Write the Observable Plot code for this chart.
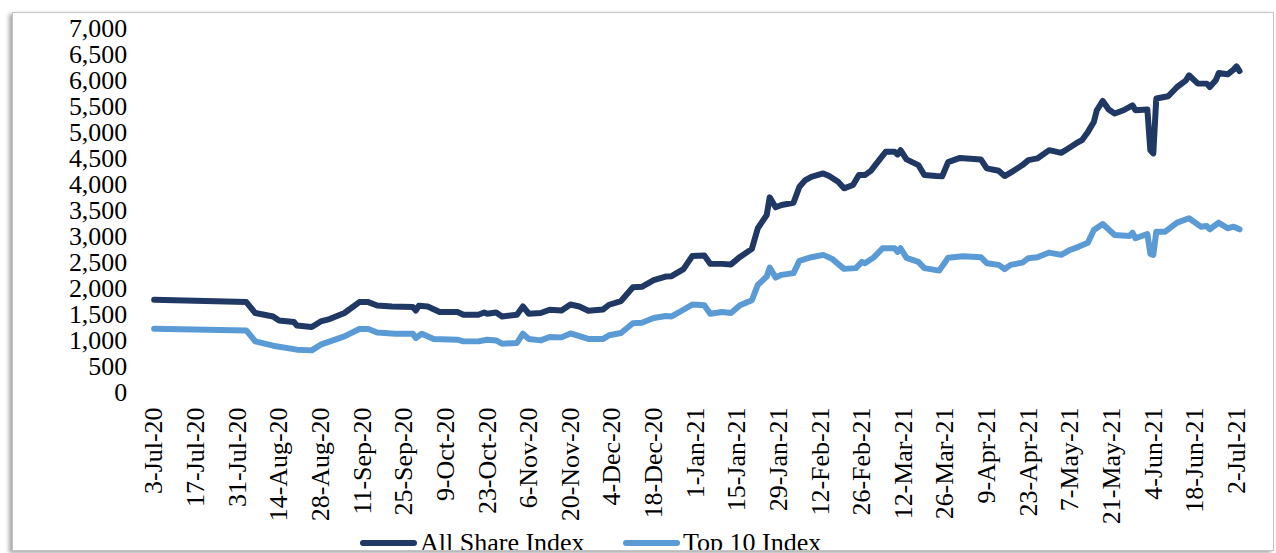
<!DOCTYPE html>
<html>
<head>
<meta charset="utf-8">
<script src="https://cdn.jsdelivr.net/npm/d3@7"></script>
<script src="https://cdn.jsdelivr.net/npm/@observablehq/plot@0.6"></script>
<style>
  html, body { margin: 0; padding: 0; background: #fff; }
  #page { position: relative; width: 1276px; height: 553px; overflow: hidden; background: #fff; }
  #frame { position: absolute; left: 12px; top: 12px; width: 1262px; height: 539px; box-sizing: border-box;
           border: 1px solid #c4c4c4; box-shadow: -3px 2px 4px rgba(0,0,0,0.35); overflow: hidden; background: #fff; }
  #chart { position: absolute; left: -13px; top: -13px; }
  .legend { position: absolute; top: -13px; left: -13px; width: 1276px; height: 553px; pointer-events: none;
            font-family: "Liberation Serif", "Times New Roman", serif; font-size: 26px; color: #000; }
  .item { position: absolute; top: 530px; white-space: nowrap; line-height: 26px; }
  .sw { position: absolute; height: 6px; border-radius: 3px; top: 540px; }
</style>
</head>
<body>
<div id="page">
  <div id="frame">
    <div id="chart"></div>
    <div class="legend" id="legend"></div>
  </div>
</div>
<script>
// ---- Data ----
const seriesNames = ["All Share Index", "Top 10 Index"];
const seriesColors = ["#203864", "#5b9bd5"];

const allShareDates = [
  "2020-07-03","2020-08-03","2020-08-06","2020-08-12","2020-08-14","2020-08-19","2020-08-20","2020-08-25","2020-08-28","2020-08-31",
  "2020-09-05","2020-09-10","2020-09-13","2020-09-16","2020-09-21","2020-09-28","2020-09-29","2020-09-30","2020-10-03","2020-10-07",
  "2020-10-13","2020-10-15","2020-10-20","2020-10-22","2020-10-23","2020-10-26","2020-10-28","2020-11-02","2020-11-04","2020-11-06",
  "2020-11-10","2020-11-13","2020-11-17","2020-11-20","2020-11-23","2020-11-26","2020-12-01","2020-12-03","2020-12-07","2020-12-11",
  "2020-12-14","2020-12-18","2020-12-22","2020-12-24","2020-12-28","2020-12-31","2021-01-04","2021-01-06","2021-01-10","2021-01-13",
  "2021-01-16","2021-01-20","2021-01-22","2021-01-25","2021-01-26","2021-01-28","2021-01-30","2021-02-03","2021-02-05","2021-02-07",
  "2021-02-09","2021-02-13","2021-02-15","2021-02-18","2021-02-20","2021-02-23","2021-02-25","2021-02-27","2021-03-01","2021-03-04",
  "2021-03-06","2021-03-09","2021-03-10","2021-03-11","2021-03-13","2021-03-17","2021-03-19","2021-03-23","2021-03-25","2021-03-27",
  "2021-03-31","2021-04-07","2021-04-09","2021-04-13","2021-04-15","2021-04-18","2021-04-21","2021-04-23","2021-04-26","2021-04-30",
  "2021-05-04","2021-05-06","2021-05-09","2021-05-11","2021-05-13","2021-05-15","2021-05-16","2021-05-18","2021-05-20","2021-05-22",
  "2021-05-25","2021-05-28","2021-05-29","2021-06-02","2021-06-03","2021-06-04","2021-06-05","2021-06-09","2021-06-12","2021-06-15",
  "2021-06-16","2021-06-19","2021-06-22","2021-06-23","2021-06-25","2021-06-26","2021-06-29","2021-07-01","2021-07-02","2021-07-03"
];
const allShareValues = [
  1784,1739,1529,1463,1387,1356,1291,1260,1367,1413,
  1529,1739,1739,1674,1655,1644,1578,1668,1655,1548,
  1548,1496,1496,1540,1515,1540,1463,1496,1655,1515,
  1529,1592,1578,1693,1655,1573,1598,1688,1759,2023,
  2033,2161,2230,2238,2372,2627,2637,2474,2474,2464,
  2608,2762,3159,3414,3753,3561,3605,3650,3956,4085,
  4148,4213,4162,4052,3926,3989,4181,4181,4263,4482,
  4628,4628,4578,4660,4482,4373,4181,4162,4156,4430,
  4511,4482,4309,4263,4162,4263,4373,4468,4501,4660,
  4608,4679,4789,4852,5011,5203,5427,5606,5441,5364,
  5427,5523,5427,5441,4660,4597,5652,5696,5874,6003,
  6099,5939,5939,5874,6003,6143,6118,6208,6271,6181
];

const top10Dates = [
  "2020-07-03","2020-08-03","2020-08-06","2020-08-12","2020-08-20","2020-08-25","2020-08-28","2020-09-05","2020-09-10","2020-09-13",
  "2020-09-16","2020-09-22","2020-09-28","2020-09-29","2020-10-01","2020-10-05","2020-10-13","2020-10-15","2020-10-20","2020-10-23",
  "2020-10-26","2020-10-28","2020-11-02","2020-11-04","2020-11-06","2020-11-10","2020-11-13","2020-11-17","2020-11-20","2020-11-26",
  "2020-12-01","2020-12-03","2020-12-07","2020-12-11","2020-12-14","2020-12-18","2020-12-22","2020-12-24","2020-12-28","2020-12-31",
  "2021-01-04","2021-01-06","2021-01-10","2021-01-13","2021-01-16","2021-01-20","2021-01-22","2021-01-25","2021-01-26","2021-01-28",
  "2021-01-30","2021-02-03","2021-02-05","2021-02-09","2021-02-13","2021-02-16","2021-02-20","2021-02-24","2021-02-26","2021-02-27",
  "2021-03-02","2021-03-05","2021-03-09","2021-03-10","2021-03-11","2021-03-13","2021-03-17","2021-03-19","2021-03-24","2021-03-27",
  "2021-04-01","2021-04-07","2021-04-09","2021-04-13","2021-04-15","2021-04-17","2021-04-21","2021-04-23","2021-04-26","2021-04-30",
  "2021-05-04","2021-05-07","2021-05-10","2021-05-13","2021-05-15","2021-05-18","2021-05-22","2021-05-27","2021-05-28","2021-05-29",
  "2021-06-02","2021-06-03","2021-06-04","2021-06-05","2021-06-08","2021-06-12","2021-06-16","2021-06-20","2021-06-22","2021-06-23",
  "2021-06-26","2021-06-29","2021-07-01","2021-07-03"
];
const top10Values = [
  1227,1195,984,901,825,811,921,1080,1222,1222,
  1156,1132,1132,1049,1132,1030,1016,984,984,1016,
  1003,940,953,1132,1030,1003,1068,1061,1137,1032,
  1032,1103,1145,1333,1342,1433,1471,1463,1592,1693,
  1678,1515,1548,1529,1678,1774,2071,2230,2403,2211,
  2263,2296,2532,2602,2647,2570,2378,2392,2512,2484,
  2599,2775,2775,2704,2775,2589,2512,2392,2345,2593,
  2622,2602,2487,2455,2372,2455,2499,2583,2602,2691,
  2647,2742,2806,2882,3126,3241,3030,3011,3074,2967,
  3049,2666,2647,3093,3093,3266,3350,3189,3203,3139,
  3266,3159,3189,3139
];

const yTicks = [0,500,1000,1500,2000,2500,3000,3500,4000,4500,5000,5500,6000,6500,7000];
const xTickDates = [
  "2020-07-03","2020-07-17","2020-07-31","2020-08-14","2020-08-28","2020-09-11","2020-09-25","2020-10-09","2020-10-23",
  "2020-11-06","2020-11-20","2020-12-04","2020-12-18","2021-01-01","2021-01-15","2021-01-29","2021-02-12","2021-02-26",
  "2021-03-12","2021-03-26","2021-04-09","2021-04-23","2021-05-07","2021-05-21","2021-06-04","2021-06-18","2021-07-02"
];
const xTickLabels = [
  "3-Jul-20","17-Jul-20","31-Jul-20","14-Aug-20","28-Aug-20","11-Sep-20","25-Sep-20","9-Oct-20","23-Oct-20",
  "6-Nov-20","20-Nov-20","4-Dec-20","18-Dec-20","1-Jan-21","15-Jan-21","29-Jan-21","12-Feb-21","26-Feb-21",
  "12-Mar-21","26-Mar-21","9-Apr-21","23-Apr-21","7-May-21","21-May-21","4-Jun-21","18-Jun-21","2-Jul-21"
];

// ---- Build ----
const parse = d3.utcParse("%Y-%m-%d");
const allShare = allShareDates.map((d, i) => ({date: parse(d), value: allShareValues[i]}));
const top10 = top10Dates.map((d, i) => ({date: parse(d), value: top10Values[i]}));
const tickDates = xTickDates.map(parse);
const labelOf = new Map(tickDates.map((d, i) => [+d, xTickLabels[i]]));

const FONT = "'Liberation Serif', 'Times New Roman', serif";

const chart = Plot.plot({
  width: 1276,
  height: 520,
  marginLeft: 154,
  marginRight: 37,
  marginTop: 28,
  marginBottom: 127,
  style: {fontFamily: FONT, fontSize: "26px", color: "#000", background: "transparent", overflow: "visible"},
  x: {type: "utc", domain: [tickDates[0], tickDates[tickDates.length - 1]]},
  y: {domain: [0, 7000]},
  marks: [
    Plot.axisY({ticks: yTicks, tickFormat: d3.format(","), tickSize: 0, tickPadding: 27, label: null, fontSize: 26, fill: "#000"}),
    Plot.axisX({ticks: tickDates, tickFormat: d => labelOf.get(+d), tickRotate: -90, tickSize: 0, tickPadding: 15, label: null, fontSize: 26, fill: "#000"}),
    Plot.line(top10, {x: "date", y: "value", stroke: seriesColors[1], strokeWidth: 6, strokeLinecap: "round", strokeLinejoin: "round"}),
    Plot.line(allShare, {x: "date", y: "value", stroke: seriesColors[0], strokeWidth: 6, strokeLinecap: "round", strokeLinejoin: "round"})
  ]
});
document.getElementById("chart").appendChild(chart);

// ---- Legend ----
const legend = document.getElementById("legend");
const legendPos = [{sw: 360, tx: 420}, {sw: 623, tx: 683}];
seriesNames.forEach((name, i) => {
  const sw = document.createElement("div");
  sw.className = "sw";
  sw.style.left = legendPos[i].sw + "px";
  sw.style.width = "57px";
  sw.style.background = seriesColors[i];
  legend.appendChild(sw);
  const t = document.createElement("div");
  t.className = "item";
  t.style.left = legendPos[i].tx + "px";
  t.textContent = name;
  legend.appendChild(t);
});
</script>
</body>
</html>
